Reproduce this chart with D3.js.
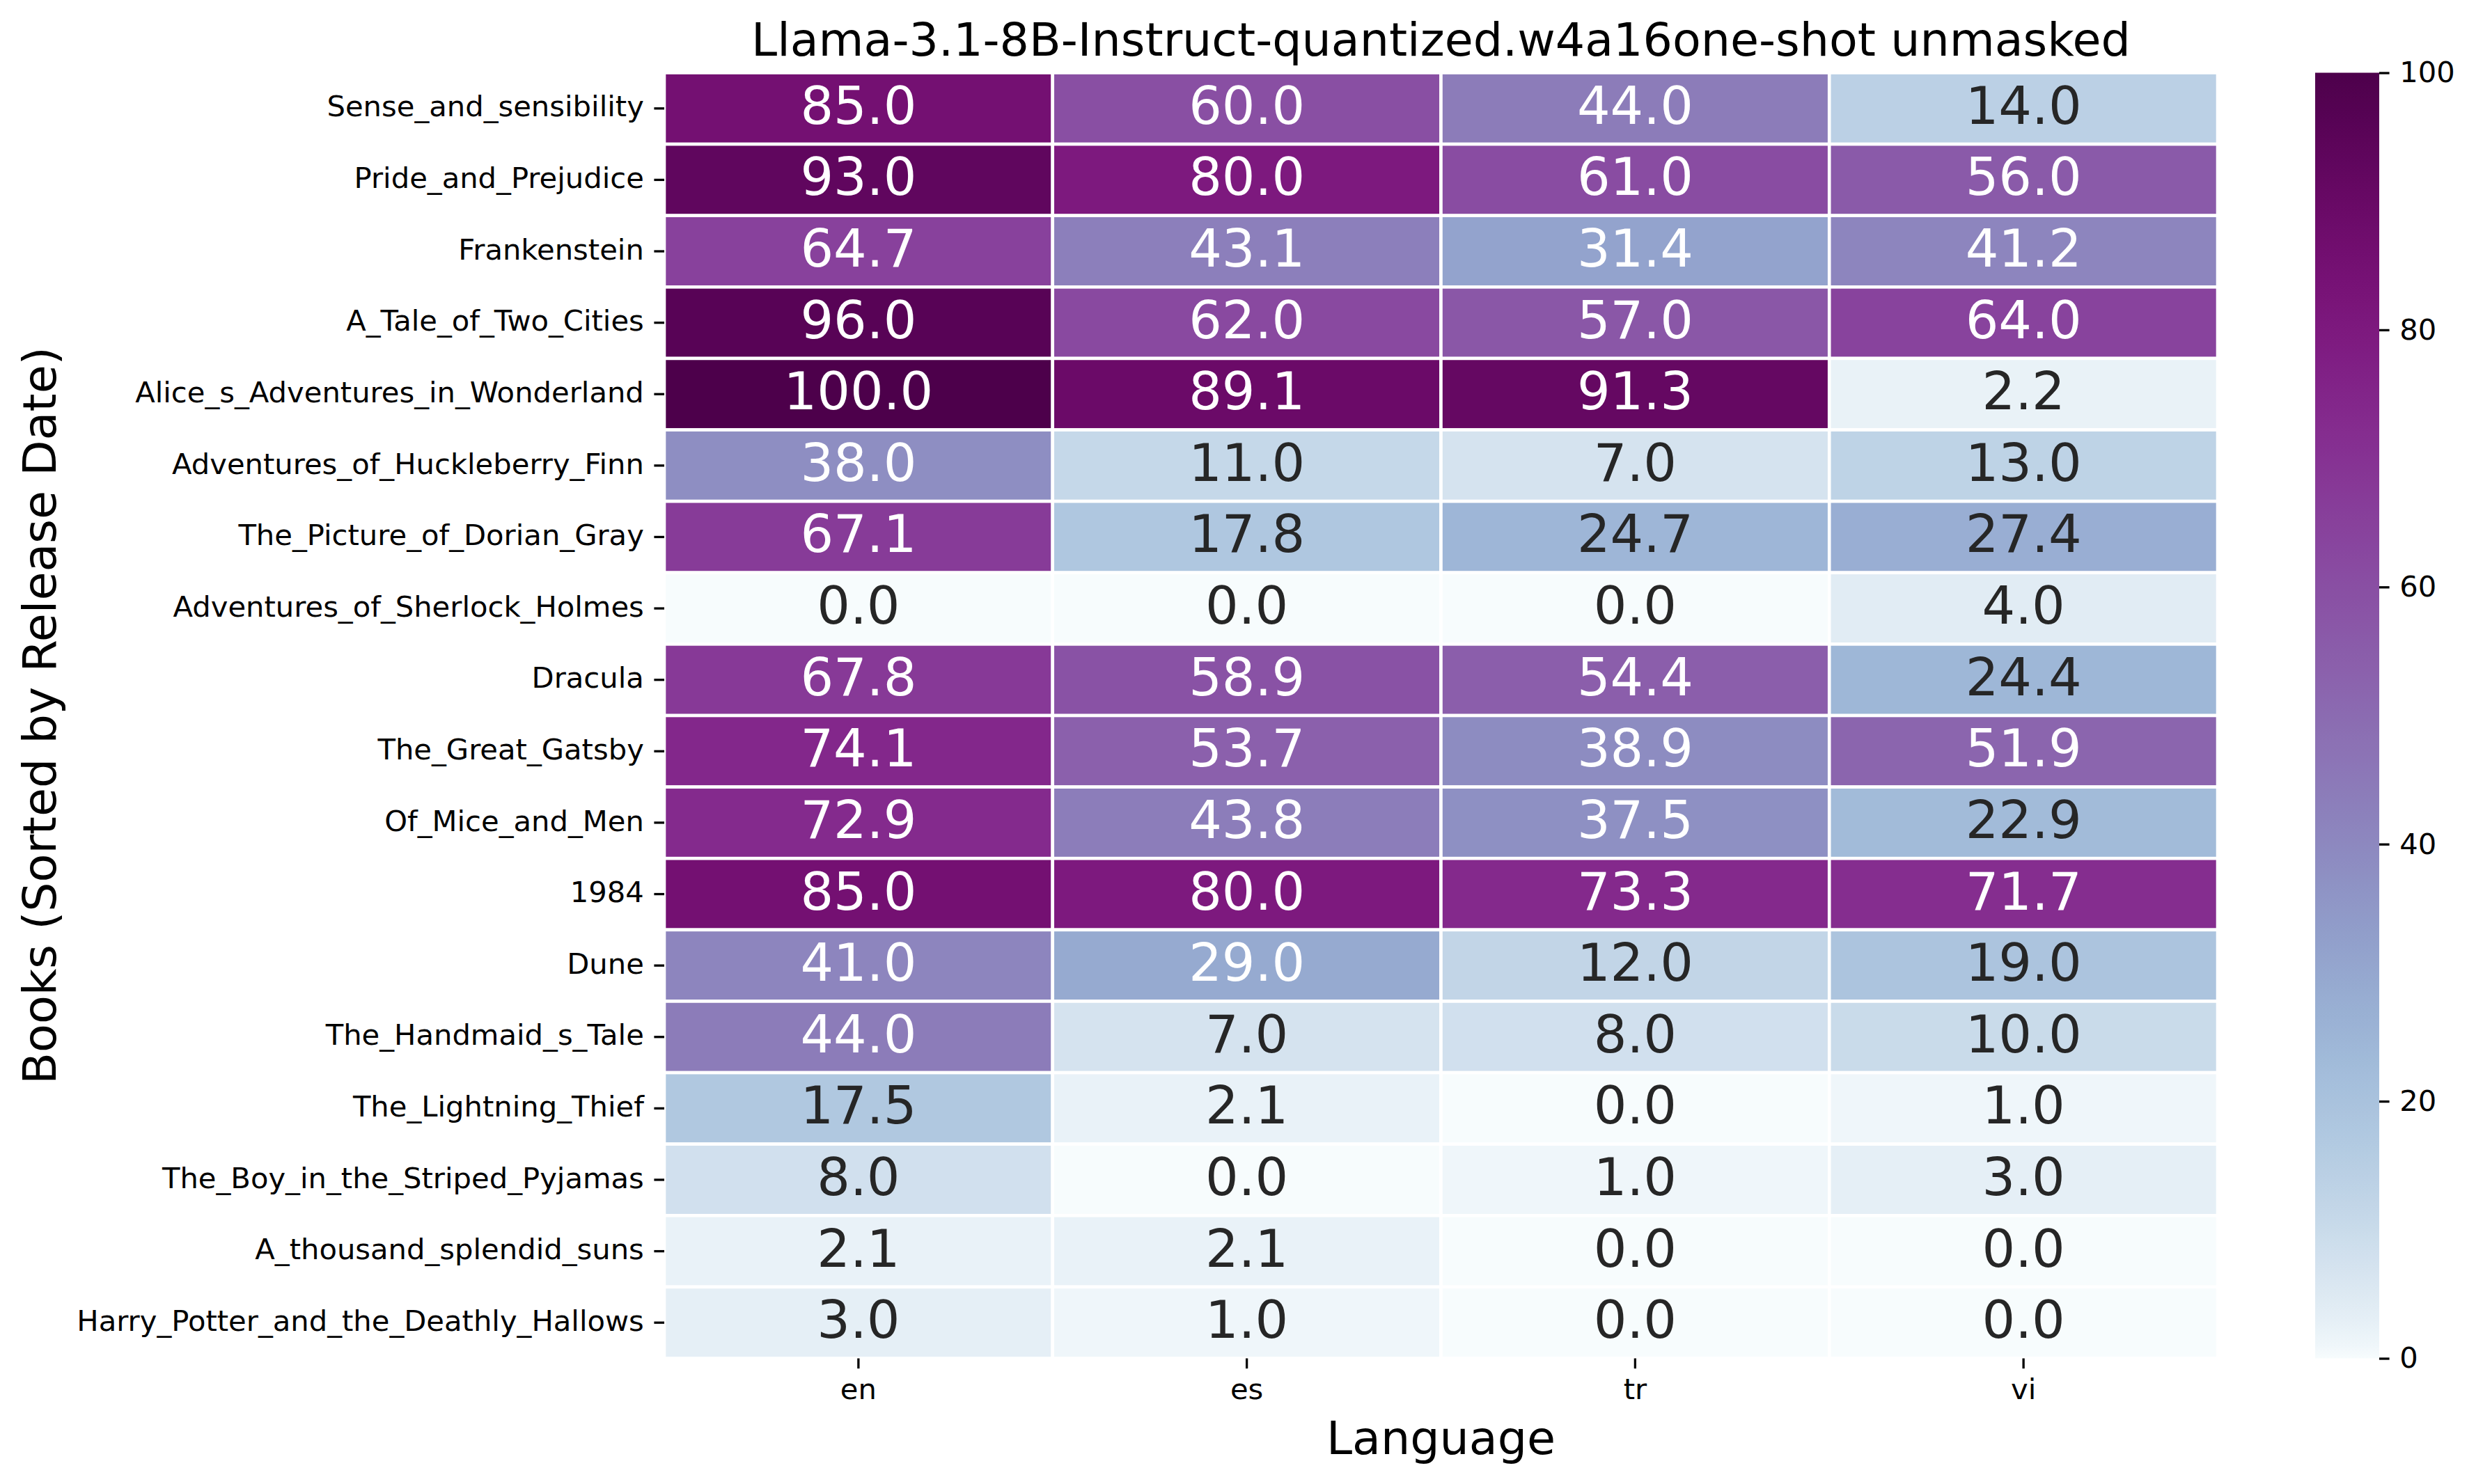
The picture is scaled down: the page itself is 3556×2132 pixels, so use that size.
<!DOCTYPE html>
<html>
<head>
<meta charset="utf-8">
<script src="https://cdn.jsdelivr.net/npm/d3@7.9.0/dist/d3.min.js"></script>
<style>
  body { margin: 0; background: #fff; }
  svg { display: block; font-family: 'DejaVu Sans', sans-serif; }
</style>
</head>
<body>
<div id="chart"></div>
<script>
// Books, in release order (top to bottom)
const books = [
  'Sense_and_sensibility',
  'Pride_and_Prejudice',
  'Frankenstein',
  'A_Tale_of_Two_Cities',
  'Alice_s_Adventures_in_Wonderland',
  'Adventures_of_Huckleberry_Finn',
  'The_Picture_of_Dorian_Gray',
  'Adventures_of_Sherlock_Holmes',
  'Dracula',
  'The_Great_Gatsby',
  'Of_Mice_and_Men',
  '1984',
  'Dune',
  'The_Handmaid_s_Tale',
  'The_Lightning_Thief',
  'The_Boy_in_the_Striped_Pyjamas',
  'A_thousand_splendid_suns',
  'Harry_Potter_and_the_Deathly_Hallows',
];

const languages = ['en', 'es', 'tr', 'vi'];

// one array per language, same order as books
const enValues = [85.0, 93.0, 64.7, 96.0, 100.0, 38.0, 67.1, 0.0, 67.8, 74.1, 72.9, 85.0, 41.0, 44.0, 17.5, 8.0, 2.1, 3.0];
const esValues = [60.0, 80.0, 43.1, 62.0, 89.1, 11.0, 17.8, 0.0, 58.9, 53.7, 43.8, 80.0, 29.0, 7.0, 2.1, 0.0, 2.1, 1.0];
const trValues = [44.0, 61.0, 31.4, 57.0, 91.3, 7.0, 24.7, 0.0, 54.4, 38.9, 37.5, 73.3, 12.0, 8.0, 0.0, 1.0, 0.0, 0.0];
const viValues = [14.0, 56.0, 41.2, 64.0, 2.2, 13.0, 27.4, 4.0, 24.4, 51.9, 22.9, 71.7, 19.0, 10.0, 1.0, 3.0, 0.0, 0.0];

const colorbarTicks = [0, 20, 40, 60, 80, 100];

const titleText = 'Llama-3.1-8B-Instruct-quantized.w4a16one-shot unmasked';
const xLabelText = 'Language';
const yLabelText = 'Books (Sorted by Release Date)';

const width = 3556;
const height = 2132;

const area = { left: 954, right: 3185, top: 104.5, bottom: 1951.5 };
const cbar = { left: 3325, right: 3417 };

const tickFont = 41.7;
const annotFont = 75;
const labelFont = 66.7;

const valuesByLang = { en: enValues, es: esValues, tr: trValues, vi: viValues };

const cells = books.flatMap((book, i) =>
  languages.map((lang) => ({ book, lang, value: valuesByLang[lang][i] }))
);

// colour: BuPu, slightly stretched toward the dark end
const color = d3.scaleSequentialPow(d3.interpolateBuPu)
  .exponent(0.675)
  .domain([0, 100])
  .clamp(true);

// seaborn style text colour choice
function luminance(c) {
  const rgb = d3.rgb(c);
  const lin = [rgb.r, rgb.g, rgb.b].map((u) => {
    u = u / 255;
    return u <= 0.03928 ? u / 12.92 : Math.pow((u + 0.055) / 1.055, 2.4);
  });
  return 0.2126 * lin[0] + 0.7152 * lin[1] + 0.0722 * lin[2];
}

const svg = d3.select('#chart')
  .append('svg')
  .attr('width', width)
  .attr('height', height);

svg.append('rect').attr('width', width).attr('height', height).attr('fill', '#fff');

const xScale = d3.scaleBand().domain(languages).range([area.left, area.right]);
const yScale = d3.scaleBand().domain(books).range([area.top, area.bottom]);

// cells
svg.append('g')
  .selectAll('rect')
  .data(cells)
  .join('rect')
  .attr('x', (d) => xScale(d.lang))
  .attr('y', (d) => yScale(d.book))
  .attr('width', xScale.bandwidth())
  .attr('height', yScale.bandwidth())
  .attr('fill', (d) => color(d.value))
  .attr('stroke', '#fff')
  .attr('stroke-width', 4.6);

// annotations
svg.append('g')
  .selectAll('text')
  .data(cells)
  .join('text')
  .attr('x', (d) => xScale(d.lang) + xScale.bandwidth() / 2)
  .attr('y', (d) => yScale(d.book) + yScale.bandwidth() / 2 + 22)
  .attr('text-anchor', 'middle')
  .attr('font-size', annotFont)
  .attr('fill', (d) => (luminance(color(d.value)) > 0.408 ? '#262626' : '#ffffff'))
  .text((d) => d.value.toFixed(1));

// axes
function styleAxis(g) {
  g.select('.domain').remove();
  g.selectAll('.tick line').attr('stroke', '#000').attr('stroke-width', 3.3);
  g.selectAll('.tick text').attr('font-size', tickFont).attr('fill', '#000')
    .attr('font-family', 'DejaVu Sans, sans-serif');
}

svg.append('g')
  .attr('transform', `translate(${area.left},0)`)
  .call(d3.axisLeft(yScale).tickSize(14.6).tickPadding(14.6))
  .call(styleAxis)
  .selectAll('.tick text')
  .attr('dy', '0.28em');

svg.append('g')
  .attr('transform', `translate(0,${area.bottom})`)
  .call(d3.axisBottom(xScale).tickSize(14.6).tickPadding(14.6))
  .call(styleAxis);

// title and axis labels
const midX = (area.left + area.right) / 2;
const midY = (area.top + area.bottom) / 2;

svg.append('text')
  .attr('x', midX).attr('y', 80)
  .attr('text-anchor', 'middle')
  .attr('font-size', labelFont)
  .text(titleText);

svg.append('text')
  .attr('x', midX).attr('y', 2089)
  .attr('text-anchor', 'middle')
  .attr('font-size', labelFont)
  .text(xLabelText);

svg.append('text')
  .attr('transform', `translate(80,${midY}) rotate(-90)`)
  .attr('text-anchor', 'middle')
  .attr('font-size', labelFont)
  .text(yLabelText);

// colour bar
const cbScale = d3.scaleLinear().domain([0, 100]).range([area.bottom, area.top]);

const grad = svg.append('defs')
  .append('linearGradient')
  .attr('id', 'cbgrad')
  .attr('x1', 0).attr('y1', 1).attr('x2', 0).attr('y2', 0);

grad.selectAll('stop')
  .data(d3.range(0, 101, 1))
  .join('stop')
  .attr('offset', (d) => d / 100)
  .attr('stop-color', (d) => color(d));

svg.append('rect')
  .attr('x', cbar.left)
  .attr('y', area.top)
  .attr('width', cbar.right - cbar.left)
  .attr('height', area.bottom - area.top)
  .attr('fill', 'url(#cbgrad)');

svg.append('g')
  .attr('transform', `translate(${cbar.right},0)`)
  .call(d3.axisRight(cbScale).tickValues(colorbarTicks).tickSize(14.6).tickPadding(14.6))
  .call(styleAxis);
</script>
</body>
</html>
